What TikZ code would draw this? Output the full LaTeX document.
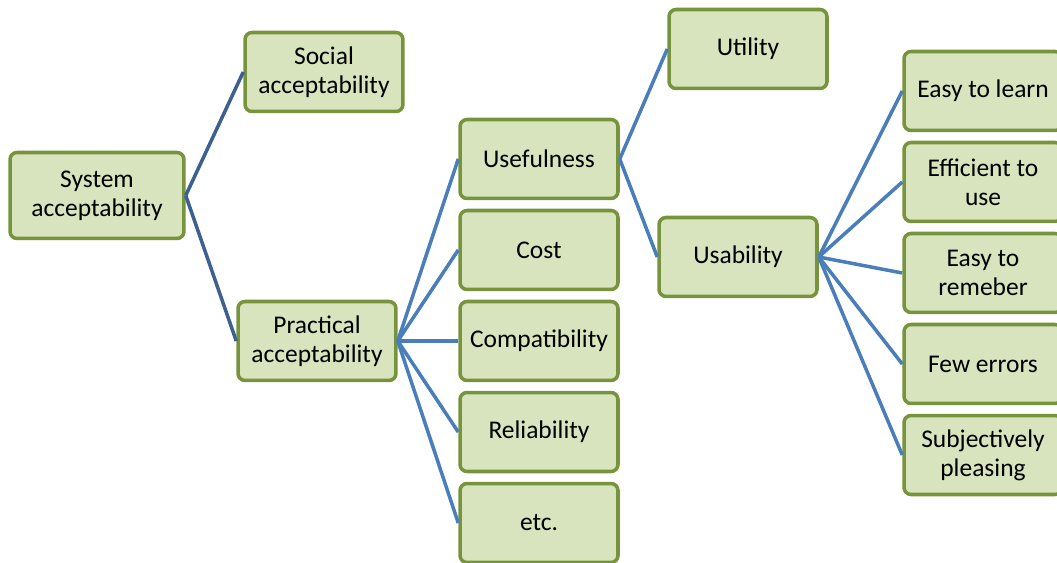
\documentclass[tikz,border=0pt]{standalone}
\usepackage{fontspec}
\setmainfont{Carlito}
\definecolor{boxfill}{HTML}{D7E4BD}
\definecolor{boxline}{HTML}{77933C}
\definecolor{linkblue}{HTML}{4A7EBB}
\definecolor{rootblue}{HTML}{3D6091}
\begin{document}
\begin{tikzpicture}[
    x=0.02cm, y=-0.02cm,
    every node/.style={font=\fontsize{14.5}{16.5}\selectfont},
    itembox/.style={draw=boxline, fill=boxfill, line width=2pt, rounded corners=4pt, minimum width=3.16cm, minimum height=1.58cm, align=center, inner sep=1pt},
    link/.style={draw=linkblue, line width=2pt},
    rootlink/.style={draw=rootblue, line width=2pt},
]
\useasboundingbox (0,0) rectangle (1057,563);
\clip (0,0) rectangle (1057,563);

% Level 0
\node[itembox, minimum width=3.48cm, minimum height=1.72cm] (sys) at (97,195.5) {System\\acceptability};

% Level 1
\node[itembox] (social) at (324,72) {Social\\acceptability};
\node[itembox] (practical) at (317,341) {Practical\\acceptability};
\draw[rootlink] (sys.east) -- (social.west);
\draw[rootlink] (sys.east) -- (practical.west);

% Level 2
\node[itembox] (useful) at (539,159) {Usefulness};
\node[itembox] (cost) at (539,250) {Cost};
\node[itembox] (compat) at (539,341) {Compatibility};
\node[itembox] (reliab) at (539,432) {Reliability};
\node[itembox] (etc) at (539,523) {etc.};
\draw[link] (practical.east) -- (useful.west);
\draw[link] (practical.east) -- (cost.west);
\draw[link] (practical.east) -- (compat.west);
\draw[link] (practical.east) -- (reliab.west);
\draw[link] (practical.east) -- (etc.west);

% Level 3
\node[itembox] (utility) at (748,49) {Utility};
\node[itembox] (usab) at (738,257) {Usability};
\draw[link] (useful.east) -- (utility.west);
\draw[link] (useful.east) -- (usab.west);

% Level 4
\node[itembox] (learn) at (983,91) {Easy to learn};
\node[itembox] (effic) at (983,182) {Efficient to\\use};
\node[itembox] (remem) at (983,273) {Easy to\\remeber};
\node[itembox] (errors) at (983,364) {Few errors};
\node[itembox] (subj) at (983,455) {Subjectively\\pleasing};
\draw[link] (usab.east) -- (learn.west);
\draw[link] (usab.east) -- (effic.west);
\draw[link] (usab.east) -- (remem.west);
\draw[link] (usab.east) -- (errors.west);
\draw[link] (usab.east) -- (subj.west);
\end{tikzpicture}
\end{document}
